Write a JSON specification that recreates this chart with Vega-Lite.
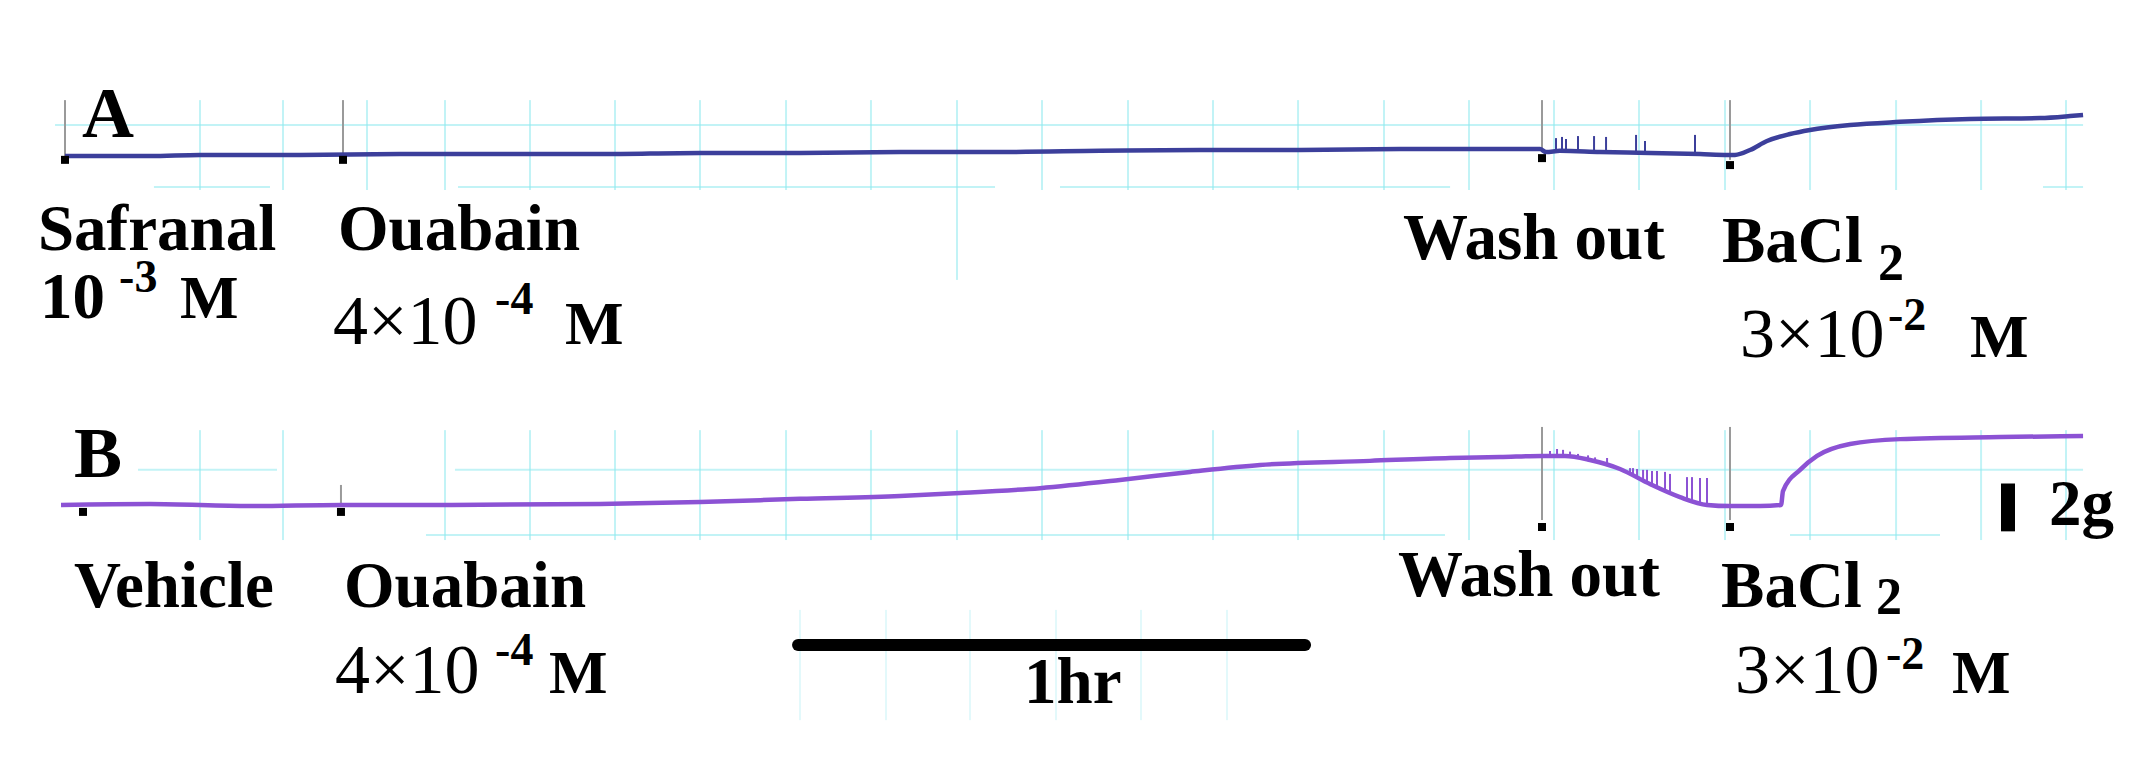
{
  "$schema": "https://vega.github.io/schema/vega-lite/v6.json",
  "width": 2139,
  "height": 759,
  "autosize": {"type": "fit", "contains": "padding"},
  "padding": 0,
  "background": "white",
  "config": {"view": {"stroke": null}},
  "datasets": {
    "traceA": [
      {"t": 0, "g": 20.79}, {"t": 10.06, "g": 20.79}, {"t": 15.98, "g": 20.83}, {"t": 27.81, "g": 20.83},
      {"t": 39.64, "g": 20.86}, {"t": 51.48, "g": 20.86}, {"t": 63.31, "g": 20.86}, {"t": 75.15, "g": 20.9},
      {"t": 86.98, "g": 20.9}, {"t": 98.82, "g": 20.93}, {"t": 110.65, "g": 20.93}, {"t": 122.49, "g": 20.97},
      {"t": 134.32, "g": 21.0}, {"t": 146.15, "g": 21.0}, {"t": 157.99, "g": 21.03}, {"t": 169.82, "g": 21.03},
      {"t": 174.56, "g": 21.03}, {"t": 175.27, "g": 20.93}, {"t": 176.92, "g": 20.97}, {"t": 181.66, "g": 20.93},
      {"t": 187.57, "g": 20.9}, {"t": 193.49, "g": 20.86}, {"t": 196.8, "g": 20.83}, {"t": 197.63, "g": 20.83},
      {"t": 199.41, "g": 21.0}, {"t": 201.42, "g": 21.31}, {"t": 204.14, "g": 21.55}, {"t": 206.51, "g": 21.69},
      {"t": 211.24, "g": 21.86}, {"t": 217.16, "g": 21.97}, {"t": 225.44, "g": 22.07}, {"t": 233.73, "g": 22.1},
      {"t": 237.28, "g": 22.17}, {"t": 238.82, "g": 22.21}
    ],
    "traceB": [
      {"t": -0.47, "g": 8.76}, {"t": 10.06, "g": 8.79}, {"t": 21.89, "g": 8.72}, {"t": 32.66, "g": 8.76},
      {"t": 45.56, "g": 8.76}, {"t": 63.31, "g": 8.79}, {"t": 75.15, "g": 8.86}, {"t": 86.98, "g": 8.97},
      {"t": 98.82, "g": 9.07}, {"t": 105.92, "g": 9.17}, {"t": 115.38, "g": 9.34}, {"t": 124.85, "g": 9.62},
      {"t": 133.14, "g": 9.9}, {"t": 141.42, "g": 10.14}, {"t": 154.44, "g": 10.28}, {"t": 163.91, "g": 10.38},
      {"t": 169.82, "g": 10.41}, {"t": 174.79, "g": 10.45}, {"t": 177.51, "g": 10.45}, {"t": 180.47, "g": 10.31},
      {"t": 184.02, "g": 10.0}, {"t": 187.57, "g": 9.48}, {"t": 191.12, "g": 9.03}, {"t": 194.32, "g": 8.76},
      {"t": 197.04, "g": 8.72}, {"t": 200.59, "g": 8.72}, {"t": 203.08, "g": 8.76}, {"t": 203.31, "g": 9.24},
      {"t": 205.33, "g": 9.97}, {"t": 207.34, "g": 10.45}, {"t": 211.24, "g": 10.86}, {"t": 217.16, "g": 11.03},
      {"t": 228.99, "g": 11.1}, {"t": 238.82, "g": 11.14}
    ],
    "spikesA": [
      {"t": 176.45, "g": 20.93, "g2": 21.41}, {"t": 177.16, "g": 20.93, "g2": 21.45}, {"t": 177.63, "g": 20.93, "g2": 21.38},
      {"t": 179.05, "g": 20.93, "g2": 21.48}, {"t": 180.95, "g": 20.93, "g2": 21.48}, {"t": 182.37, "g": 20.93, "g2": 21.45},
      {"t": 185.92, "g": 20.9, "g2": 21.52}, {"t": 186.98, "g": 20.9, "g2": 21.31}, {"t": 192.9, "g": 20.86, "g2": 21.52}
    ],
    "spikesB": [
      {"t": 175.74, "g": 10.45, "g2": 10.62}, {"t": 176.57, "g": 10.45, "g2": 10.69}, {"t": 177.28, "g": 10.45, "g2": 10.66},
      {"t": 178.11, "g": 10.43, "g2": 10.6}, {"t": 179.05, "g": 10.38, "g2": 10.52}, {"t": 180.24, "g": 10.3, "g2": 10.47},
      {"t": 181.07, "g": 10.22, "g2": 10.4}, {"t": 182.49, "g": 10.1, "g2": 10.38}, {"t": 185.21, "g": 9.83, "g2": 10.03},
      {"t": 185.56, "g": 9.76, "g2": 10.03}, {"t": 186.04, "g": 9.69, "g2": 10.0}, {"t": 186.75, "g": 9.59, "g2": 9.97},
      {"t": 187.22, "g": 9.52, "g2": 9.97}, {"t": 187.81, "g": 9.45, "g2": 9.93}, {"t": 188.4, "g": 9.38, "g2": 9.93},
      {"t": 189.35, "g": 9.24, "g2": 9.9}, {"t": 189.94, "g": 9.17, "g2": 9.83}, {"t": 191.95, "g": 8.93, "g2": 9.72},
      {"t": 192.54, "g": 8.9, "g2": 9.72}, {"t": 193.49, "g": 8.83, "g2": 9.69}, {"t": 194.32, "g": 8.76, "g2": 9.69}
    ],
    "markers": [
      {"t": 0, "g": 20.66}, {"t": 32.9, "g": 20.66}, {"t": 174.79, "g": 20.72}, {"t": 197.04, "g": 20.48},
      {"t": 2.13, "g": 8.52}, {"t": 32.66, "g": 8.52}, {"t": 174.79, "g": 8.0}, {"t": 197.04, "g": 8.0}
    ],
    "events": [
      {"t": 0, "g": 22.72, "g2": 20.79}, {"t": 32.9, "g": 22.72, "g2": 20.79},
      {"t": 174.79, "g": 22.72, "g2": 21.03}, {"t": 197.04, "g": 22.72, "g2": 20.66},
      {"t": 32.66, "g": 9.45, "g2": 8.76}, {"t": 174.79, "g": 11.45, "g2": 8.24}, {"t": 197.04, "g": 11.45, "g2": 8.24}
    ],
    "grid": [
      {"kind": "main", "t": 15.98, "t2": 15.98, "g": 22.72, "g2": 19.62},
      {"kind": "main", "t": 25.8, "t2": 25.8, "g": 22.72, "g2": 19.62},
      {"kind": "main", "t": 35.74, "t2": 35.74, "g": 22.72, "g2": 19.62},
      {"kind": "main", "t": 44.97, "t2": 44.97, "g": 22.72, "g2": 19.62},
      {"kind": "main", "t": 55.03, "t2": 55.03, "g": 22.72, "g2": 19.62},
      {"kind": "main", "t": 65.09, "t2": 65.09, "g": 22.72, "g2": 19.62},
      {"kind": "main", "t": 75.15, "t2": 75.15, "g": 22.72, "g2": 19.62},
      {"kind": "main", "t": 85.33, "t2": 85.33, "g": 22.72, "g2": 19.62},
      {"kind": "main", "t": 95.38, "t2": 95.38, "g": 22.72, "g2": 19.62},
      {"kind": "main", "t": 105.56, "t2": 105.56, "g": 22.72, "g2": 16.52},
      {"kind": "main", "t": 115.62, "t2": 115.62, "g": 22.72, "g2": 19.62},
      {"kind": "main", "t": 125.8, "t2": 125.8, "g": 22.72, "g2": 19.62},
      {"kind": "main", "t": 135.86, "t2": 135.86, "g": 22.72, "g2": 19.62},
      {"kind": "main", "t": 145.92, "t2": 145.92, "g": 22.72, "g2": 19.62},
      {"kind": "main", "t": 156.09, "t2": 156.09, "g": 22.72, "g2": 19.62},
      {"kind": "main", "t": 166.15, "t2": 166.15, "g": 22.72, "g2": 19.62},
      {"kind": "main", "t": 176.21, "t2": 176.21, "g": 22.72, "g2": 19.62},
      {"kind": "main", "t": 186.27, "t2": 186.27, "g": 22.72, "g2": 19.62},
      {"kind": "main", "t": 196.45, "t2": 196.45, "g": 22.72, "g2": 19.62},
      {"kind": "main", "t": 206.51, "t2": 206.51, "g": 22.72, "g2": 19.62},
      {"kind": "main", "t": 216.69, "t2": 216.69, "g": 22.72, "g2": 19.62},
      {"kind": "main", "t": 226.75, "t2": 226.75, "g": 22.72, "g2": 19.62},
      {"kind": "main", "t": 236.8, "t2": 236.8, "g": 22.72, "g2": 19.62},
      {"kind": "main", "t": 15.98, "t2": 15.98, "g": 11.34, "g2": 7.55},
      {"kind": "main", "t": 25.8, "t2": 25.8, "g": 11.34, "g2": 7.55},
      {"kind": "main", "t": 44.97, "t2": 44.97, "g": 11.34, "g2": 7.55},
      {"kind": "main", "t": 55.03, "t2": 55.03, "g": 11.34, "g2": 7.55},
      {"kind": "main", "t": 65.09, "t2": 65.09, "g": 11.34, "g2": 7.55},
      {"kind": "main", "t": 75.15, "t2": 75.15, "g": 11.34, "g2": 7.55},
      {"kind": "main", "t": 85.33, "t2": 85.33, "g": 11.34, "g2": 7.55},
      {"kind": "main", "t": 95.38, "t2": 95.38, "g": 11.34, "g2": 7.55},
      {"kind": "main", "t": 105.56, "t2": 105.56, "g": 11.34, "g2": 7.55},
      {"kind": "main", "t": 115.62, "t2": 115.62, "g": 11.34, "g2": 7.55},
      {"kind": "main", "t": 125.8, "t2": 125.8, "g": 11.34, "g2": 7.55},
      {"kind": "main", "t": 135.86, "t2": 135.86, "g": 11.34, "g2": 7.55},
      {"kind": "main", "t": 145.92, "t2": 145.92, "g": 11.34, "g2": 7.55},
      {"kind": "main", "t": 156.09, "t2": 156.09, "g": 11.34, "g2": 7.55},
      {"kind": "main", "t": 166.15, "t2": 166.15, "g": 11.34, "g2": 7.55},
      {"kind": "main", "t": 176.21, "t2": 176.21, "g": 11.34, "g2": 7.55},
      {"kind": "main", "t": 186.27, "t2": 186.27, "g": 11.34, "g2": 7.55},
      {"kind": "main", "t": 196.45, "t2": 196.45, "g": 11.34, "g2": 7.55},
      {"kind": "main", "t": 206.51, "t2": 206.51, "g": 11.34, "g2": 7.55},
      {"kind": "main", "t": 216.69, "t2": 216.69, "g": 11.34, "g2": 7.55},
      {"kind": "main", "t": 226.75, "t2": 226.75, "g": 11.34, "g2": 7.55},
      {"kind": "main", "t": 236.8, "t2": 236.8, "g": 11.34, "g2": 7.55},
      {"kind": "main", "t": -1.18, "t2": 238.82, "g": 21.86, "g2": 21.86},
      {"kind": "main", "t": 10.53, "t2": 24.26, "g": 19.72, "g2": 19.72},
      {"kind": "main", "t": 46.51, "t2": 110.06, "g": 19.72, "g2": 19.72},
      {"kind": "main", "t": 117.75, "t2": 163.91, "g": 19.72, "g2": 19.72},
      {"kind": "main", "t": 234.08, "t2": 238.82, "g": 19.72, "g2": 19.72},
      {"kind": "main", "t": 8.64, "t2": 25.09, "g": 9.97, "g2": 9.97},
      {"kind": "main", "t": 46.15, "t2": 238.82, "g": 9.97, "g2": 9.97},
      {"kind": "main", "t": 42.72, "t2": 163.31, "g": 7.72, "g2": 7.72},
      {"kind": "main", "t": 204.14, "t2": 221.89, "g": 7.72, "g2": 7.72},
      {"kind": "faint", "t": 86.98, "t2": 86.98, "g": 5.14, "g2": 1.34},
      {"kind": "faint", "t": 97.16, "t2": 97.16, "g": 5.14, "g2": 1.34},
      {"kind": "faint", "t": 107.1, "t2": 107.1, "g": 5.14, "g2": 1.34},
      {"kind": "faint", "t": 117.28, "t2": 117.28, "g": 5.14, "g2": 1.34},
      {"kind": "faint", "t": 127.34, "t2": 127.34, "g": 5.14, "g2": 1.34},
      {"kind": "faint", "t": 137.51, "t2": 137.51, "g": 5.14, "g2": 1.34}
    ],
    "bars": [
      {"bar": "time", "t": 86.75, "t2": 146.75, "g": 3.93},
      {"bar": "force", "t": 229.94, "g": 9.5, "g2": 7.85}
    ],
    "texts": [
      {"style": "panel", "label": "A", "t": 2.01, "g": 21.45},
      {"style": "panel", "label": "B", "t": 1.07, "g": 9.72},
      {"style": "bold", "label": "Safranal", "t": -3.2, "g": 17.55},
      {"style": "bold", "label": "Ouabain", "t": 32.31, "g": 17.55},
      {"style": "bold", "label": "Wash out", "t": 158.34, "g": 17.24},
      {"style": "bold", "label": "BaCl", "t": 196.09, "g": 17.14},
      {"style": "bold", "label": "Vehicle", "t": 1.07, "g": 5.24},
      {"style": "bold", "label": "Ouabain", "t": 33.02, "g": 5.24},
      {"style": "bold", "label": "Wash out", "t": 157.75, "g": 5.62},
      {"style": "bold", "label": "BaCl", "t": 195.98, "g": 5.24},
      {"style": "bold", "label": "1hr", "t": 113.49, "g": 1.93},
      {"style": "bold", "label": "2g", "t": 234.79, "g": 8.07},
      {"style": "bold", "label": "10", "t": -2.96, "g": 15.21},
      {"style": "unit", "label": "M", "t": 13.6, "g": 15.21},
      {"style": "unit", "label": "M", "t": 59.17, "g": 14.31},
      {"style": "unit", "label": "M", "t": 225.44, "g": 13.86},
      {"style": "unit", "label": "M", "t": 57.28, "g": 2.28},
      {"style": "unit", "label": "M", "t": 223.31, "g": 2.28},
      {"style": "sub", "label": "2", "t": 214.56, "g": 16.52},
      {"style": "sub", "label": "2", "t": 214.32, "g": 5.0},
      {"style": "num", "label": "4×10", "t": 31.72, "g": 14.31},
      {"style": "num", "label": "3×10", "t": 198.22, "g": 13.86},
      {"style": "num", "label": "4×10", "t": 31.95, "g": 2.28},
      {"style": "num", "label": "3×10", "t": 197.63, "g": 2.28},
      {"style": "sup", "label": "-3", "t": 6.4, "g": 16.1},
      {"style": "sup", "label": "-4", "t": 50.9, "g": 15.34},
      {"style": "sup", "label": "-2", "t": 215.74, "g": 14.79},
      {"style": "sup", "label": "-4", "t": 50.9, "g": 3.24},
      {"style": "sup", "label": "-2", "t": 215.5, "g": 3.1}
    ]
  },
  "encoding": {
    "x": {"field": "t", "type": "quantitative", "scale": {"domain": [-7.69, 245.44], "nice": false, "zero": false}, "axis": null},
    "y": {"field": "g", "type": "quantitative", "scale": {"domain": [0, 26.172], "nice": false, "zero": false}, "axis": null}
  },
  "layer": [
    {"data": {"name": "grid"}, "transform": [{"filter": "datum.kind == 'main'"}],
     "mark": {"type": "rule", "color": "#8fe9ef", "strokeWidth": 2, "opacity": 0.55},
     "encoding": {"x2": {"field": "t2"}, "y2": {"field": "g2"}}},
    {"data": {"name": "grid"}, "transform": [{"filter": "datum.kind == 'faint'"}],
     "mark": {"type": "rule", "color": "#8fe9ef", "strokeWidth": 2, "opacity": 0.25},
     "encoding": {"x2": {"field": "t2"}, "y2": {"field": "g2"}}},
    {"data": {"name": "events"},
     "mark": {"type": "rule", "color": "#9a9a9a", "strokeWidth": 2},
     "encoding": {"y2": {"field": "g2"}}},
    {"data": {"name": "traceA"},
     "mark": {"type": "line", "color": "#3c3f9b", "strokeWidth": 4.5, "interpolate": "monotone"},
     "encoding": {}},
    {"data": {"name": "traceB"},
     "mark": {"type": "line", "color": "#8c52d4", "strokeWidth": 4.5, "interpolate": "monotone"},
     "encoding": {}},
    {"data": {"name": "spikesA"},
     "mark": {"type": "rule", "color": "#3c3f9b", "strokeWidth": 2},
     "encoding": {"y2": {"field": "g2"}}},
    {"data": {"name": "spikesB"},
     "mark": {"type": "rule", "color": "#8c52d4", "strokeWidth": 2},
     "encoding": {"y2": {"field": "g2"}}},
    {"data": {"name": "markers"},
     "mark": {"type": "point", "shape": "square", "filled": true, "color": "black", "size": 64, "opacity": 1},
     "encoding": {}},
    {"data": {"name": "bars"}, "transform": [{"filter": "datum.bar == 'time'"}],
     "mark": {"type": "rule", "color": "black", "strokeWidth": 12, "strokeCap": "round"},
     "encoding": {"x2": {"field": "t2"}}},
    {"data": {"name": "bars"}, "transform": [{"filter": "datum.bar == 'force'"}],
     "mark": {"type": "rule", "color": "black", "strokeWidth": 14},
     "encoding": {"y2": {"field": "g2"}}},
    {"data": {"name": "texts"}, "transform": [{"filter": "datum.style == 'panel'"}],
     "mark": {"type": "text", "font": "Liberation Serif", "fontWeight": "bold", "fontSize": 72, "align": "left", "baseline": "alphabetic", "color": "black"},
     "encoding": {"text": {"field": "label"}}},
    {"data": {"name": "texts"}, "transform": [{"filter": "datum.style == 'bold'"}],
     "mark": {"type": "text", "font": "Liberation Serif", "fontWeight": "bold", "fontSize": 65, "align": "left", "baseline": "alphabetic", "color": "black"},
     "encoding": {"text": {"field": "label"}}},
    {"data": {"name": "texts"}, "transform": [{"filter": "datum.style == 'unit'"}],
     "mark": {"type": "text", "font": "Liberation Serif", "fontWeight": "bold", "fontSize": 62, "align": "left", "baseline": "alphabetic", "color": "black"},
     "encoding": {"text": {"field": "label"}}},
    {"data": {"name": "texts"}, "transform": [{"filter": "datum.style == 'sub'"}],
     "mark": {"type": "text", "font": "Liberation Serif", "fontWeight": "bold", "fontSize": 52, "align": "left", "baseline": "alphabetic", "color": "black"},
     "encoding": {"text": {"field": "label"}}},
    {"data": {"name": "texts"}, "transform": [{"filter": "datum.style == 'num'"}],
     "mark": {"type": "text", "font": "Liberation Serif", "fontWeight": "normal", "fontSize": 70, "align": "left", "baseline": "alphabetic", "color": "black"},
     "encoding": {"text": {"field": "label"}}},
    {"data": {"name": "texts"}, "transform": [{"filter": "datum.style == 'sup'"}],
     "mark": {"type": "text", "font": "Liberation Serif", "fontWeight": "bold", "fontSize": 46, "align": "left", "baseline": "alphabetic", "color": "black"},
     "encoding": {"text": {"field": "label"}}}
  ]
}
